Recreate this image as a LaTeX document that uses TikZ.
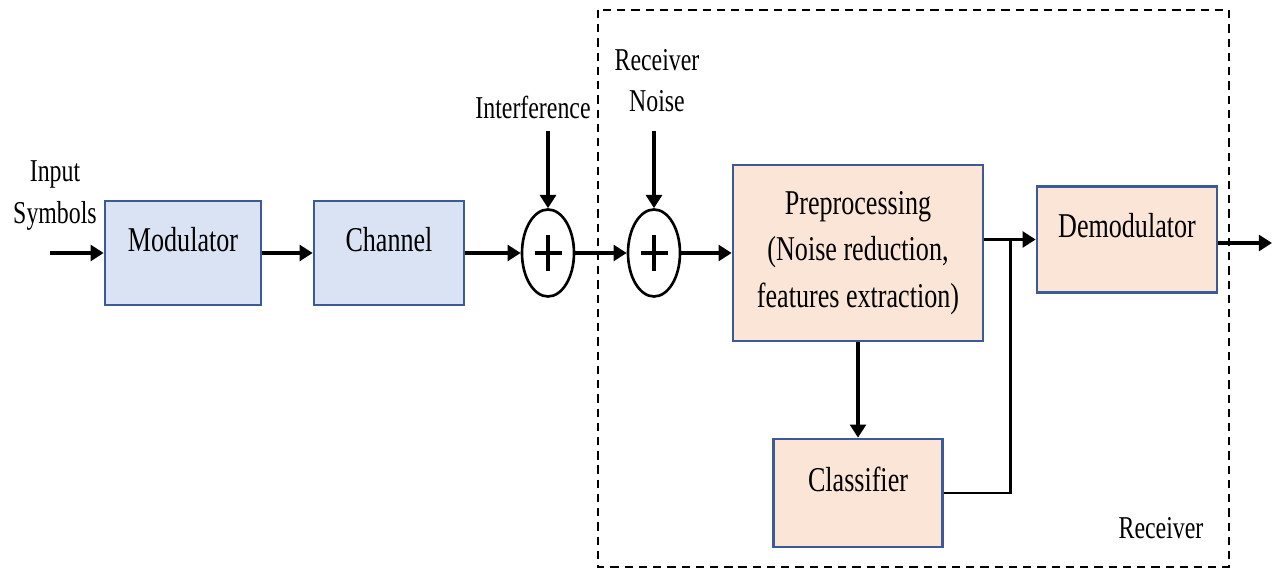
\documentclass[tikz,border=0pt]{standalone}
\usepackage{fontspec}
\setmainfont{Liberation Serif}[FakeStretch=0.75]
\usetikzlibrary{arrows.meta,shapes.geometric}

\definecolor{boxedge}{RGB}{59,90,150}
\definecolor{txfill}{RGB}{218,227,243}
\definecolor{rxfill}{RGB}{251,229,214}

\newcommand{\blockfont}{\fontsize{19.8}{26.6}\selectfont}
\newcommand{\tagfont}{\fontsize{18.1}{23.6}\selectfont}

\begin{document}
\begin{tikzpicture}[
  block/.style={rectangle, draw=boxedge, line width=1.5pt, font=\blockfont, align=center, inner sep=0pt},
  singleline/.style={text height=13pt, text depth=15pt},
  txblock/.style={block, singleline, fill=txfill, minimum width=3.12cm, minimum height=2.08cm},
  rxblock/.style={block, fill=rxfill},
  sum/.style={ellipse, draw, line width=1.5pt, minimum width=1.04cm, minimum height=1.74cm, inner sep=0pt,
    path picture={\draw[line width=1.8pt]
      ([xshift=-0.27cm]path picture bounding box.center) -- ([xshift=0.27cm]path picture bounding box.center)
      ([yshift=-0.36cm]path picture bounding box.center) -- ([yshift=0.36cm]path picture bounding box.center);}},
  sig/.style={-{Triangle[length=7.5pt,width=9pt]}, line width=2pt},
  tag/.style={font=\tagfont, align=center, inner sep=0pt},
  node distance=2.2cm
]
\useasboundingbox (0,0) rectangle (25.46,-11.38);

% receiver frame
\draw[line width=1.5pt, dash pattern=on 4.7pt off 3.4pt] (11.96,-0.2) rectangle (24.58,-11.34);
\node[tag] (rxname) at (23.22,-10.56) {Receiver};

% transmitter side
\node[tag] (insym) at (1.1,-3.91) {Input\\Symbols};
\coordinate (in) at (1.0,-5.06);
\node[txblock] (mod) at (3.66,-5.06) {Modulator};
\node[txblock, right of=mod, node distance=4.12cm, minimum width=3.0cm] (chan) {Channel};

% adders
\node[sum, right of=chan, node distance=3.18cm] (sum1) {};
\node[sum, right of=sum1, node distance=2.12cm] (sum2) {};
\coordinate[above of=sum1, node distance=2.44cm] (intf);
\coordinate[above of=sum2, node distance=2.44cm] (rxn);
\node[tag] (intflabel) at (10.66,-2.14) {Interference};
\node[tag] (rxnlabel) at (13.14,-1.61) {Receiver\\Noise};

% receiver blocks
\node[rxblock, right of=sum2, node distance=4.08cm, minimum width=5cm, minimum height=3.52cm] (pre)
  {Preprocessing\\(Noise reduction,\\features extraction)};
\node[rxblock, singleline, right of=pre, node distance=5.38cm, yshift=0.27cm,
  minimum width=3.6cm, minimum height=2.12cm] (demod) {Demodulator};
\node[rxblock, singleline, below of=pre, node distance=4.8cm,
  minimum width=3.38cm, minimum height=2.16cm] (cls) {Classifier};
\path (demod.west) ++(-0.5cm,0) coordinate (tap);
\coordinate (out) at (25.44,-4.86);

\draw[sig] (in) -- (mod);
\draw[sig] (mod) -- (chan);
\draw[sig] (chan) -- (sum1);
\draw[sig] (intf) -- (sum1);
\draw[sig] (sum1) -- (sum2);
\draw[sig] (rxn) -- (sum2);
\draw[sig] (sum2) -- (pre);
\draw[sig] (pre.east |- demod.west) -- (demod.west);
\draw[sig] (pre) -- (cls);
\draw[line width=1.5pt] (cls.east) -| (tap);
\draw[sig] (demod.east |- out) -- (out);
\end{tikzpicture}
\end{document}
